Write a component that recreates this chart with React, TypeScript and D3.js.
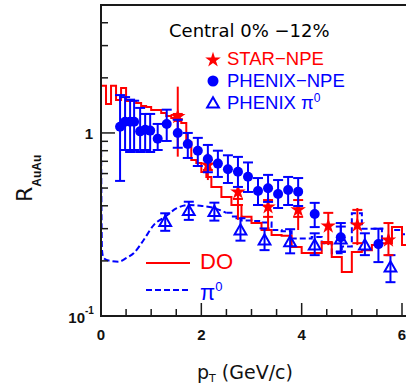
import React from 'react';
import * as d3 from 'd3';

// ---------- data ----------
const xMajorTicks = [0, 2, 4, 6];
const xTickLabels = ['0', '2', '4', '6'];
const xMinorTicks = [0.5, 1, 1.5, 2.5, 3, 3.5, 4.5, 5, 5.5];
const yMinorTicks = [0.2, 0.3, 0.4, 0.5, 0.6, 0.7, 0.8, 0.9, 2, 3, 4, 5];
const yMajorTicks = [0.1, 1];

// PHENIX-NPE (filled circles)
const phenixNpePt = [0.38, 0.48, 0.58, 0.66, 0.78, 0.88, 0.98, 1.13, 1.31, 1.53, 1.73, 1.93, 2.13, 2.33, 2.53, 2.73, 2.93, 3.13, 3.33, 3.53, 3.73, 3.93, 4.26, 4.78, 5.53];
const phenixNpeR = [1.08, 1.15, 1.15, 1.15, 1.02, 1.04, 1.03, 0.93, 1.12, 1.0, 0.87, 0.8, 0.72, 0.68, 0.633, 0.614, 0.577, 0.482, 0.499, 0.464, 0.488, 0.478, 0.361, 0.269, 0.247];
const phenixNpeHi = [1.61, 1.57, 1.52, 1.5, 1.37, 1.27, 1.27, 1.12, 1.34, 1.18, 1.0, 0.94, 0.86, 0.8, 0.755, 0.74, 0.69, 0.567, 0.59, 0.553, 0.575, 0.567, 0.415, 0.322, 0.3];
const phenixNpeLo = [0.547, 0.807, 0.787, 0.807, 0.787, 0.807, 0.787, 0.807, 0.904, 0.83, 0.73, 0.66, 0.61, 0.575, 0.533, 0.507, 0.476, 0.404, 0.42, 0.389, 0.404, 0.399, 0.306, 0.224, 0.197];

// STAR-NPE (stars)
const starPt = [1.53, 2.13, 2.73, 3.33, 3.93, 4.53, 5.11, 5.73];
const starR = [1.228, 0.668, 0.476, 0.394, 0.38, 0.31, 0.314, 0.26];
const starStatHi = [1.79, 0.777, 0.507, 0.441, 0.43, 0.37, 0.389, 0.322];
const starStatLo = [0.742, 0.553, 0.335, 0.295, 0.295, 0.244, 0.244, 0.215];
const starSysHi = [1.27, 0.712, 0.436, 0.43, 0.43, 0.366, 0.38, 0.322];
const starSysLo = [1.19, 0.628, 0.404, 0.348, 0.348, 0.25, 0.25, 0.215];

// PHENIX pi0 (open triangles)
const pi0Pt = [1.28, 1.75, 2.26, 2.78, 3.26, 3.77, 4.26, 4.78, 5.26, 5.77];
const pi0R = [0.328, 0.376, 0.372, 0.295, 0.26, 0.254, 0.244, 0.263, 0.244, 0.185];
const pi0Hi = [0.364, 0.421, 0.416, 0.342, 0.301, 0.298, 0.283, 0.308, 0.283, 0.215];
const pi0Lo = [0.292, 0.335, 0.332, 0.258, 0.229, 0.22, 0.215, 0.225, 0.215, 0.153];

// D0 model histogram (red solid)
const d0Start = 1.0;
const d0Edges = [0, 0.1, 0.2, 0.3, 0.4, 0.5, 0.6, 0.7, 0.8, 0.9, 1.0, 1.1, 1.2, 1.3, 1.4, 1.5, 1.6, 1.7, 1.8, 1.9, 2.0, 2.1, 2.2, 2.4, 2.6, 2.8, 3.0, 3.2, 3.4, 3.6, 3.8, 4.0, 4.2, 4.4, 4.6, 4.8, 5.0, 5.2, 5.4, 5.6, 5.8, 6.0, 6.2];
const d0Vals = [1.81, 1.44, 1.81, 1.515, 1.76, 1.496, 1.496, 1.458, 1.404, 1.387, 1.336, 1.336, 1.286, 1.238, 1.208, 1.163, 1.134, 0.893, 0.712, 0.686, 0.612, 0.575, 0.507, 0.447, 0.404, 0.348, 0.322, 0.295, 0.277, 0.274, 0.238, 0.221, 0.221, 0.254, 0.21, 0.174, 0.224, 0.229, 0.244, 0.25, 0.306, 0.244];

// pi0 model curve (blue dashed): smooth part then histogram part
const piCurvePt = [0, 0.02, 0.05, 0.18, 0.35, 0.5, 0.65, 0.85, 1.05, 1.28, 1.51, 1.75, 1.98, 2.24, 2.5];
const piCurveR = [1.0, 0.229, 0.207, 0.2, 0.198, 0.207, 0.22, 0.26, 0.314, 0.349, 0.388, 0.404, 0.4, 0.39, 0.366];
const piStepEdges = [2.5, 2.6, 2.8, 3.0, 3.2, 3.4, 3.6, 3.8, 4.0, 4.2, 4.4, 4.6, 4.8, 5.0, 5.2, 5.4, 5.6, 5.8, 6.0, 6.2];
const piStepVals = [0.366, 0.35, 0.332, 0.33, 0.324, 0.295, 0.29, 0.265, 0.265, 0.27, 0.25, 0.22, 0.24, 0.364, 0.3, 0.3, 0.26, 0.295, 0.28];

const RED = '#ff0000';
const BLUE = '#0000ff';
const AXIS = '#1a1a1a';

export default function App() {
  const W = 406, H = 385;
  const x = d3.scaleLinear().domain([0, 6]).range([101, 402]);
  const y = d3.scaleLog().domain([0.1, 5]).range([316, 5]);
  const x0 = x(0), yb = y(0.1), yt = y(5);

  const line = d3.line<[number, number]>().x(d => x(d[0])).y(d => y(d[1]));

  const histPts = (edges: number[], vals: number[]): [number, number][] => {
    const pts: [number, number][] = [];
    vals.forEach((v, i) => { pts.push([edges[i], v]); pts.push([edges[i + 1], v]); });
    return pts;
  };

  const d0Path = line([[0, d0Start] as [number, number], ...histPts(d0Edges, d0Vals)]) || '';
  const piCurvePath = d3.line<[number, number]>().x(d => x(d[0])).y(d => y(d[1])).curve(d3.curveMonotoneX)(piCurvePt.map((p, i) => [p, piCurveR[i]] as [number, number])) || '';
  const piStepPath = line(histPts(piStepEdges, piStepVals)) || '';

  const starSym = d3.symbol().type(d3.symbolStar).size(75)() || '';
  const triSym = d3.symbol().type(d3.symbolTriangle).size(60)() || '';
  const cap = 5;

  return (
    <svg width={W} height={H} style={{ position: 'absolute', left: 0, top: 0, background: '#fff' }}
      fontFamily="'Liberation Sans', Arial, sans-serif">
      <defs>
        <clipPath id="plotClip"><rect x={x0} y={yt} width={330} height={yb - yt} /></clipPath>
      </defs>
      <rect x={0} y={0} width={W} height={H} fill="#fff" />

      <g clipPath="url(#plotClip)">
        {/* model curves */}
        <path d={piCurvePath} fill="none" stroke={BLUE} strokeWidth={2} strokeDasharray="6,3" />
        <path d={piStepPath} fill="none" stroke={BLUE} strokeWidth={2} strokeDasharray="6,3" />
        <path d={d0Path} fill="none" stroke={RED} strokeWidth={2} />

        {/* PHENIX pi0 */}
        {pi0Pt.map((p, i) => (
          <g key={'pi' + i} stroke={BLUE} strokeWidth={2} fill="none">
            <line x1={x(p)} x2={x(p)} y1={y(pi0Hi[i])} y2={y(pi0Lo[i])} />
            <line x1={x(p) - cap} x2={x(p) + cap} y1={y(pi0Hi[i])} y2={y(pi0Hi[i])} />
            <line x1={x(p) - cap} x2={x(p) + cap} y1={y(pi0Lo[i])} y2={y(pi0Lo[i])} />
            <path d={triSym} transform={`translate(${x(p)},${y(pi0R[i]) + 1})`} />
          </g>
        ))}

        {/* STAR NPE */}
        {starPt.map((p, i) => (
          <g key={'st' + i} stroke={RED} strokeWidth={2} fill={RED}>
            <line x1={x(p)} x2={x(p)} y1={y(starStatHi[i])} y2={y(starStatLo[i])} />
            <line x1={x(p) - cap} x2={x(p) + cap} y1={y(starSysHi[i])} y2={y(starSysHi[i])} />
            <line x1={x(p) - cap} x2={x(p) + cap} y1={y(starSysLo[i])} y2={y(starSysLo[i])} />
            <path d={starSym} stroke="none" transform={`translate(${x(p)},${y(starR[i])})`} />
          </g>
        ))}

        {/* PHENIX NPE */}
        {phenixNpePt.map((p, i) => (
          <g key={'ph' + i} stroke={BLUE} strokeWidth={2} fill={BLUE}>
            <line x1={x(p)} x2={x(p)} y1={y(phenixNpeHi[i])} y2={y(phenixNpeLo[i])} />
            <line x1={x(p) - cap} x2={x(p) + cap} y1={y(phenixNpeHi[i])} y2={y(phenixNpeHi[i])} />
            <line x1={x(p) - cap} x2={x(p) + cap} y1={y(phenixNpeLo[i])} y2={y(phenixNpeLo[i])} />
            <circle cx={x(p)} cy={y(phenixNpeR[i])} r={5} stroke="none" />
          </g>
        ))}
      </g>

      {/* frame / axes */}
      <line x1={x0} x2={W} y1={yt} y2={yt} stroke={AXIS} strokeWidth={2} />
      <line x1={x0} x2={x0} y1={yt - 1} y2={yb + 1} stroke={AXIS} strokeWidth={2} />
      <line x1={x0 - 1} x2={W} y1={yb} y2={yb} stroke={AXIS} strokeWidth={2} />

      {xMajorTicks.map(t => (
        <line key={'xM' + t} x1={x(t)} x2={x(t)} y1={yb} y2={yb - 13} stroke={AXIS} strokeWidth={1.5} />
      ))}
      {xMinorTicks.map(t => (
        <line key={'xm' + t} x1={x(t)} x2={x(t)} y1={yb} y2={yb - 7} stroke={AXIS} strokeWidth={1.5} />
      ))}
      {yMajorTicks.map(t => (
        <line key={'yM' + t} x1={x0} x2={x0 + 14} y1={y(t)} y2={y(t)} stroke={AXIS} strokeWidth={1.5} />
      ))}
      {yMinorTicks.map(t => (
        <line key={'ym' + t} x1={x0} x2={x0 + 7} y1={y(t)} y2={y(t)} stroke={AXIS} strokeWidth={1.5} />
      ))}

      {/* tick labels */}
      {xMajorTicks.map((t, i) => (
        <text key={'xl' + t} x={x(t)} y={340} textAnchor="middle" fontSize={15} fontWeight="bold" fill="#111">{xTickLabels[i]}</text>
      ))}
      <text x={93} y={139} textAnchor="end" fontSize={15} fontWeight="bold" fill="#111">1</text>
      <text x={85} y={323} textAnchor="end" fontSize={15} fontWeight="bold" fill="#111">10</text>
      <text x={85} y={314} textAnchor="start" fontSize={10} fontWeight="bold" fill="#111">-1</text>

      {/* axis titles */}
      <text x={197} y={379} fontSize={19} fill="#111" fontFamily="'DejaVu Sans', sans-serif">
        p<tspan fontSize={11} dy={3}>T</tspan><tspan dy={-3}> (GeV/c)</tspan>
      </text>
      <g transform="translate(32,202) rotate(-90)">
        <text x={0} y={0} fontSize={22} fill="#111" fontFamily="'DejaVu Sans', sans-serif">
          R<tspan fontSize={12} fontWeight="bold" dy={9} fontFamily="'Liberation Sans', Arial, sans-serif">AuAu</tspan>
        </text>
      </g>

      {/* title & legend */}
      <text x={169} y={37} fontSize={18} fill="#000" fontFamily="'DejaVu Sans', sans-serif">Central 0% −12%</text>

      <path d={starSym} fill={RED} transform="translate(213,60)" />
      <text x={227} y={65} fontSize={18.5} fill={RED}>STAR−NPE</text>
      <circle cx={213} cy={81} r={5.5} fill={BLUE} />
      <text x={227} y={87} fontSize={18.5} fill={BLUE}>PHENIX−NPE</text>
      <path d={triSym} fill="none" stroke={BLUE} strokeWidth={2} transform="translate(213,104)" />
      <text x={227} y={109} fontSize={18.5} fill={BLUE}>PHENIX π<tspan fontSize={12} dy={-7}>0</tspan></text>

      <line x1={146} x2={190} y1={263} y2={263} stroke={RED} strokeWidth={2} />
      <text x={200} y={269} fontSize={22} fill={RED}>DO</text>
      <line x1={146} x2={190} y1={290} y2={290} stroke={BLUE} strokeWidth={2} strokeDasharray="6,3" />
      <text x={200} y={300} fontSize={22} fill={BLUE}>π<tspan fontSize={13} dy={-9}>0</tspan></text>
    </svg>
  );
}
